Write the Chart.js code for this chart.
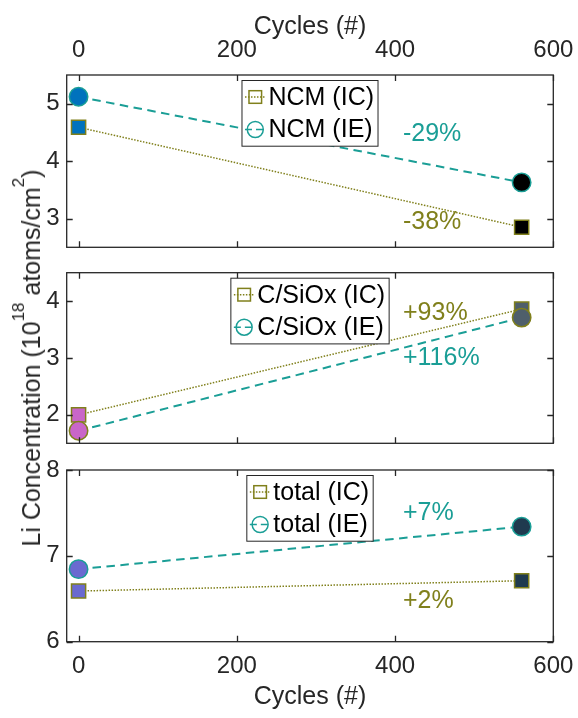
<!DOCTYPE html>
<html>
<head>
<meta charset="utf-8">
<script src="https://cdn.jsdelivr.net/npm/chart.js@4.4.1/dist/chart.umd.min.js"></script>
<style>
  html, body { margin: 0; padding: 0; background: #fff; }
  #wrap { position: relative; width: 578px; height: 718px; overflow: hidden;
          font-family: "Liberation Sans", Arial, sans-serif; }
  #wrap canvas { position: absolute; left: 0; }
  #ylab { position: absolute; left: 33px; top: 357.5px; white-space: nowrap;
          transform: translate(-50%, -50%) rotate(-90deg);
          font-size: 25px; line-height: 28px; color: #262626; }
  #ylab span { position: relative; top: -16px; font-size: 17px; }
</style>
</head>
<body>
<div id="wrap">
  <canvas id="c1" width="578" height="260" style="top:0px"></canvas>
  <canvas id="c2" width="578" height="195" style="top:260px"></canvas>
  <canvas id="c3" width="578" height="263" style="top:455px"></canvas>
  <div id="ylab">Li Concentration (10<span>18</span> atoms/cm<span>2</span>)</div>
</div>
<script>
// ---- data ----
const cycles = [0, 560];
const xTicks = [0, 200, 400, 600];

const ncmIC = [4.59, 2.85];
const ncmIE = [5.12, 3.63];
const csioxIC = [2.00, 3.86];
const csioxIE = [1.72, 3.71];
const totalIC = [6.59, 6.71];
const totalIE = [6.845, 7.34];

const ncmTicks = [3, 4, 5];
const csioxTicks = [2, 3, 4];
const totalTicks = [6, 7, 8];

const ncmLabels = ['NCM (IC)', 'NCM (IE)'];
const csioxLabels = ['C/SiOx (IC)', 'C/SiOx (IE)'];
const totalLabels = ['total (IC)', 'total (IE)'];

// ---- styles ----
const FONT = '"Liberation Sans", Arial, sans-serif';
const AXIS = '#262626';
const OLIVE = '#80801c';
const TEAL = '#1a9e96';
Chart.defaults.font.family = FONT;

function pctText(series) {
  const p = Math.round((series[1] / series[0] - 1) * 100);
  return (p > 0 ? '+' : '-') + Math.abs(p) + '%';
}

// scales keep a fixed size and reserve no room for label overflow
function fixScale(s, size) {
  if (s.isHorizontal()) s.height = size; else s.width = size;
  s.paddingLeft = 0; s.paddingRight = 0; s.paddingTop = 0; s.paddingBottom = 0;
}

// frame, inward ticks, legend and change labels
function panelDecor(cfg) {
  return {
    id: 'panelDecor',
    afterDatasetsDraw(chart) {
      const { ctx, chartArea: a, scales: { x, y } } = chart;
      ctx.save();
      // inward tick marks on all four sides
      ctx.strokeStyle = AXIS;
      ctx.lineWidth = 1.3;
      const tl = 6;
      ctx.beginPath();
      xTicks.forEach(v => {
        const px = Math.round(x.getPixelForValue(v)) + 0.5;
        ctx.moveTo(px, a.top); ctx.lineTo(px, a.top + tl);
        ctx.moveTo(px, a.bottom); ctx.lineTo(px, a.bottom - tl);
      });
      cfg.yTicks.forEach(v => {
        const py = Math.round(y.getPixelForValue(v)) + 0.5;
        ctx.moveTo(a.left, py); ctx.lineTo(a.left + tl, py);
        ctx.moveTo(a.right, py); ctx.lineTo(a.right - tl, py);
      });
      ctx.stroke();
      ctx.strokeRect(a.left, a.top, a.right - a.left, a.bottom - a.top);

      // change labels
      ctx.font = '25px ' + FONT;
      ctx.textAlign = 'left';
      ctx.textBaseline = 'middle';
      const nx = x.getPixelForValue(cfg.noteX);
      ctx.fillStyle = OLIVE;
      ctx.fillText(pctText(cfg.ic), nx, y.getPixelForValue(cfg.noteY[0]));
      ctx.fillStyle = TEAL;
      ctx.fillText(pctText(cfg.ie), nx, y.getPixelForValue(cfg.noteY[1]));

      // legend box centred along the top of the plot
      const labels = chart.data.datasets.map(d => d.label);
      const tw = Math.max(...labels.map(l => ctx.measureText(l).width));
      const w = 26.5 + tw + 4, h = 65.7;
      const left = (a.left + a.right) / 2 - w / 2;
      const top = a.top + 5.5;
      ctx.fillStyle = '#ffffff';
      ctx.fillRect(left, top, w, h);
      ctx.strokeStyle = AXIS;
      ctx.lineWidth = 1;
      ctx.strokeRect(left, top, w, h);
      const rows = [top + 16.5, top + 49];
      const sx = left + 13.3;
      // IC entry: dotted olive line with open square
      ctx.strokeStyle = OLIVE;
      ctx.lineWidth = 1.5;
      ctx.setLineDash([1.5, 1.5]);
      ctx.beginPath(); ctx.moveTo(left + 3, rows[0]); ctx.lineTo(left + 24, rows[0]); ctx.stroke();
      ctx.setLineDash([]);
      ctx.strokeRect(sx - 6.3, rows[0] - 6.3, 12.6, 12.6);
      // IE entry: dashed teal line with open circle
      ctx.strokeStyle = TEAL;
      ctx.setLineDash([7, 4]);
      ctx.beginPath(); ctx.moveTo(left + 3, rows[1]); ctx.lineTo(left + 24, rows[1]); ctx.stroke();
      ctx.setLineDash([]);
      ctx.beginPath(); ctx.arc(sx, rows[1], 8, 0, Math.PI * 2); ctx.stroke();
      ctx.fillStyle = '#000000';
      ctx.fillText(labels[0], left + 26.5, rows[0] + 1);
      ctx.fillText(labels[1], left + 26.5, rows[1] + 1);
      ctx.restore();
    }
  };
}

function makePanel(id, cfg) {
  const xTitle = { display: cfg.xShow, text: 'Cycles (#)', color: AXIS,
                   font: { size: 25 }, padding: cfg.xTitlePad };
  return new Chart(document.getElementById(id), {
    type: 'line',
    data: {
      datasets: [
        {
          label: cfg.labels[0],
          data: cycles.map((c, i) => ({ x: c, y: cfg.ic[i] })),
          borderColor: OLIVE, borderWidth: 1.5, borderDash: [1.5, 1.5],
          pointStyle: 'rect', pointRadius: 10, pointBorderWidth: 1.5,
          pointBorderColor: OLIVE, pointBackgroundColor: cfg.fills,
          order: 2
        },
        {
          label: cfg.labels[1],
          data: cycles.map((c, i) => ({ x: c, y: cfg.ie[i] })),
          borderColor: TEAL, borderWidth: 2, borderDash: [8.5, 5.5],
          pointStyle: 'circle', pointRadius: 9.2, pointBorderWidth: 1.5,
          pointBorderColor: cfg.circleEdge, pointBackgroundColor: cfg.fills,
          order: 1
        }
      ]
    },
    options: {
      responsive: false, animation: false, devicePixelRatio: 1,
      layout: { padding: { left: 0, right: 24.7, top: cfg.padTop, bottom: cfg.padBottom } },
      plugins: { legend: { display: false }, tooltip: { enabled: false } },
      scales: {
        x: {
          type: 'linear', position: cfg.xPos, display: cfg.xShow,
          min: -15, max: 600,
          afterBuildTicks: s => { s.ticks = xTicks.map(v => ({ value: v })); },
          afterFit: s => fixScale(s, cfg.xHeight),
          grid: { display: false, drawTicks: false }, border: { display: false },
          ticks: { color: AXIS, font: { size: 24 }, padding: cfg.xTickPad, maxRotation: 0 },
          title: xTitle
        },
        y: {
          type: 'linear', min: cfg.yMin, max: cfg.yMax,
          afterBuildTicks: s => { s.ticks = cfg.yTicks.map(v => ({ value: v })); },
          afterFit: s => fixScale(s, 66.7),
          grid: { display: false, drawTicks: false }, border: { display: false },
          ticks: { color: AXIS, font: { size: 24 }, padding: 7 }
        }
      }
    },
    plugins: [panelDecor(cfg)]
  });
}

makePanel('c1', {
  labels: ncmLabels, ic: ncmIC, ie: ncmIE, yTicks: ncmTicks, yMin: 2.5, yMax: 5.5,
  fills: ['#0072bd', '#000000'], circleEdge: TEAL,
  xShow: true, xPos: 'top', xHeight: 75, xTickPad: 10, xTitlePad: { top: 12, bottom: 0 },
  padTop: 0, padBottom: 12.7,
  noteX: 410, noteY: [2.94, 4.47]
});

makePanel('c2', {
  labels: csioxLabels, ic: csioxIC, ie: csioxIE, yTicks: csioxTicks, yMin: 1.5, yMax: 4.5,
  fills: ['#c966c9', '#4f5f6b'], circleEdge: OLIVE,
  xShow: false, xPos: 'bottom', xHeight: 0, xTickPad: 0, xTitlePad: 0,
  padTop: 12.7, padBottom: 11.7,
  noteX: 410, noteY: [3.79, 2.99]
});

makePanel('c3', {
  labels: totalLabels, ic: totalIC, ie: totalIE, yTicks: totalTicks, yMin: 6, yMax: 8,
  fills: ['#6a6ad0', '#1f3a4f'], circleEdge: TEAL,
  xShow: true, xPos: 'bottom', xHeight: 76.3, xTickPad: 10.2, xTitlePad: { top: 0, bottom: 6 },
  padTop: 15, padBottom: 0,
  noteX: 410, noteY: [6.47, 7.5]
});
</script>
</body>
</html>
